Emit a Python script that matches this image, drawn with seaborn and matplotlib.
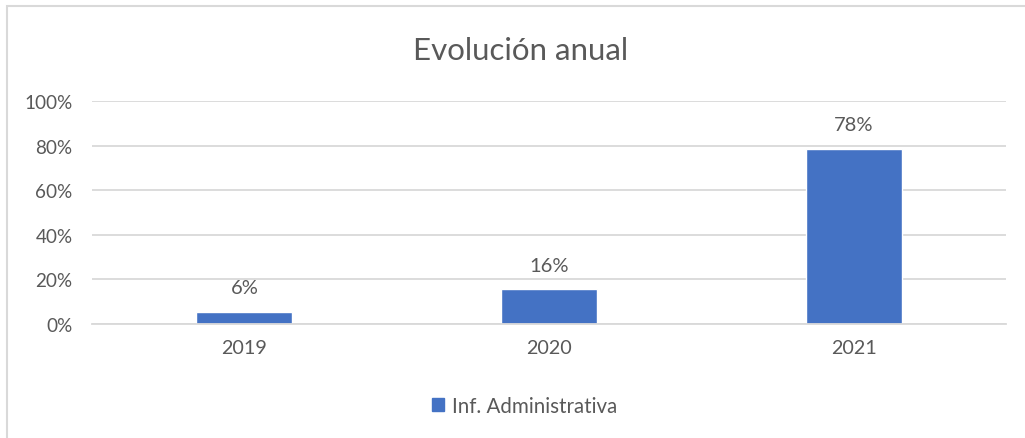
import matplotlib
matplotlib.use("Agg")
import matplotlib.pyplot as plt
from matplotlib.patches import Rectangle
import seaborn as sns
import pandas as pd

# 数据
years = ["2019", "2020", "2021"]
values = [0.055, 0.155, 0.785]
bar_labels = ["6%", "16%", "78%"]
series_name = "Inf. Administrativa"
y_ticks = [0, 0.2, 0.4, 0.6, 0.8, 1.0]
y_tick_labels = ["0%", "20%", "40%", "60%", "80%", "100%"]

sns.set_theme(style="white")
plt.rcParams["font.family"] = ["Lato", "DejaVu Sans"]

TEXT = "#595959"
GRID = "#d9d9d9"
BLUE = "#4472C4"

df = pd.DataFrame({"year": years, "value": values, "serie": series_name})

fig = plt.figure(figsize=(10.25, 4.39), dpi=100)
ax = fig.add_axes([92 / 1025, 1 - 325 / 439, 914 / 1025, 223 / 439])

sns.barplot(data=df, x="year", y="value", hue="serie", palette=[BLUE],
            width=0.315, ax=ax, legend=False, saturation=1)

ax.set_ylim(0, 1)
ax.set_xlim(-0.5, 2.5)
ax.set_yticks(y_ticks)
ax.set_yticklabels(y_tick_labels)
ax.yaxis.grid(True, color=GRID, linewidth=1.3)
ax.set_axisbelow(True)
for s in ["top", "right", "left"]:
    ax.spines[s].set_visible(False)
ax.spines["bottom"].set_color(GRID)
ax.spines["bottom"].set_linewidth(1.3)
ax.tick_params(axis="both", length=0, labelsize=14.2, labelcolor=TEXT)
ax.tick_params(axis="y", pad=14, labelsize=13.6)
ax.tick_params(axis="x", pad=11)
ax.set_xlabel("")
ax.set_ylabel("")

# 数据标签
for i, (v, lab) in enumerate(zip(values, bar_labels)):
    ax.text(i, v + 0.108, lab, ha="center", va="center", fontsize=14.5, color=TEXT)

fig.text(0.508, 1 - 51 / 439, "Evolución anual", ha="center", va="center",
         fontsize=22.5, color=TEXT)

# 图例
handle = Rectangle((0, 0), 1, 1, color=BLUE)
fig.legend([handle], [series_name], loc="center", bbox_to_anchor=(0.512, 1 - 407 / 439),
           frameon=False, fontsize=14.8, labelcolor=TEXT, handlelength=0.6,
           handleheight=0.6, handletextpad=0.4)

# 外框
fig.patches.append(Rectangle((7 / 1025, -0.1), 1.2, 1 - 7 / 439 + 0.1,
                             transform=fig.transFigure, fill=False,
                             edgecolor=GRID, linewidth=1.5))

fig.savefig("out.png", dpi=100)
plt.close(fig)
